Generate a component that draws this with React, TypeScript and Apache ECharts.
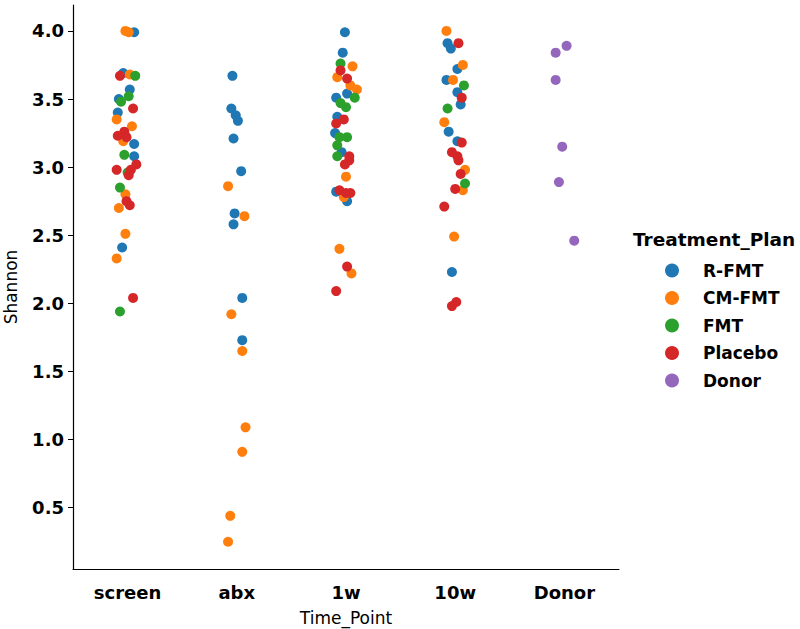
import React, { useEffect, useRef } from "react";
import * as echarts from "echarts";

// Time points (x categories)
const timePoints = ["screen", "abx", "1w", "10w", "Donor"];
const yTicks = [0.5, 1.0, 1.5, 2.0, 2.5, 3.0, 3.5, 4.0];
const groups = ["R-FMT", "CM-FMT", "FMT", "Placebo", "Donor"];
const colors = ["#1f77b4", "#ff7f0e", "#2ca02c", "#d62728", "#9467bd"];

// each point: [timeIndex, jitter (category units), Shannon]
const rFMT: number[][] = [
  [0, 0.06, 3.99], [0, -0.04, 3.69], [0, 0.02, 3.57], [0, -0.08, 3.5], [0, -0.09, 3.4],
  [0, 0.06, 3.17], [0, 0.06, 3.08], [0, -0.05, 2.41],
  [1, -0.04, 3.67], [1, -0.05, 3.43], [1, -0.01, 3.38], [1, 0.01, 3.34], [1, -0.03, 3.21],
  [1, 0.04, 2.97], [1, -0.02, 2.66], [1, -0.03, 2.58], [1, 0.05, 2.04], [1, 0.05, 1.73],
  [2, -0.01, 3.99], [2, -0.03, 3.84], [2, 0.01, 3.54], [2, -0.09, 3.51], [2, -0.08, 3.37],
  [2, -0.1, 3.25], [2, -0.04, 3.11], [2, -0.09, 2.82], [2, 0.01, 2.75],
  [3, -0.07, 3.91], [3, -0.04, 3.87], [3, 0.02, 3.72], [3, -0.08, 3.64], [3, 0.02, 3.55],
  [3, 0.05, 3.46], [3, -0.06, 3.26], [3, 0.02, 3.19], [3, -0.03, 2.23],
];
const cmFMT: number[][] = [
  [0, -0.02, 4.0], [0, 0.01, 3.99], [0, 0.02, 3.68], [0, -0.1, 3.35], [0, 0.04, 3.3],
  [0, -0.04, 3.19], [0, -0.02, 2.8], [0, -0.08, 2.7], [0, -0.02, 2.51], [0, -0.1, 2.33],
  [1, -0.08, 2.86], [1, 0.07, 2.64], [1, -0.05, 1.92], [1, 0.05, 1.65], [1, 0.08, 1.09],
  [1, 0.05, 0.91], [1, -0.06, 0.44], [1, -0.08, 0.25],
  [2, 0.06, 3.74], [2, -0.08, 3.66], [2, 0.04, 3.6], [2, 0.1, 3.57], [2, 0.0, 2.93],
  [2, -0.02, 2.78], [2, -0.06, 2.4], [2, 0.05, 2.22],
  [3, -0.08, 4.0], [3, 0.07, 3.75], [3, -0.02, 3.64], [3, -0.1, 3.33], [3, 0.09, 2.98],
  [3, 0.07, 2.83], [3, -0.01, 2.49],
];
const fmt: number[][] = [
  [0, 0.07, 3.67], [0, 0.01, 3.52], [0, -0.06, 3.48], [0, -0.03, 3.09], [0, 0.0, 2.96],
  [0, -0.07, 2.85], [0, -0.07, 1.94],
  [2, -0.05, 3.76], [2, 0.08, 3.51], [2, -0.05, 3.47], [2, 0.0, 3.44], [2, -0.06, 3.22],
  [2, 0.01, 3.22], [2, -0.08, 3.16], [2, -0.08, 3.08],
  [3, 0.08, 3.6], [3, -0.07, 3.43], [3, 0.09, 2.88],
];
const placebo: number[][] = [
  [0, -0.07, 3.67], [0, 0.05, 3.43], [0, -0.03, 3.26], [0, -0.09, 3.23], [0, -0.01, 3.22],
  [0, 0.08, 3.02], [0, -0.1, 2.98], [0, 0.03, 2.98], [0, 0.01, 2.94], [0, -0.01, 2.75],
  [0, 0.02, 2.72], [0, 0.05, 2.04],
  [2, -0.05, 3.71], [2, 0.01, 3.65], [2, -0.02, 3.35], [2, -0.09, 3.32], [2, 0.03, 3.08],
  [2, 0.03, 3.05], [2, -0.01, 3.02], [2, -0.06, 2.83], [2, 0.0, 2.81], [2, 0.04, 2.81],
  [2, 0.01, 2.27], [2, -0.09, 2.09],
  [3, 0.03, 3.91], [3, 0.06, 3.51], [3, 0.06, 3.18], [3, -0.03, 3.11], [3, 0.02, 3.08],
  [3, 0.03, 3.05], [3, 0.05, 2.95], [3, 0.0, 2.84], [3, -0.1, 2.71], [3, 0.01, 2.01],
  [3, -0.03, 1.98],
];
const donor: number[][] = [
  [4, 0.02, 3.89], [4, -0.08, 3.84], [4, -0.08, 3.64], [4, -0.02, 3.15], [4, -0.05, 2.89],
  [4, 0.09, 2.46],
];
const groupData = [rFMT, cmFMT, fmt, placebo, donor];

const FONT = "DejaVu Sans";

export default function App() {
  const ref = useRef<HTMLDivElement>(null);
  useEffect(() => {
    if (!ref.current) return;
    const chart = echarts.init(ref.current, undefined, { renderer: "svg" });
    chart.setOption({
      animation: false,
      backgroundColor: "#ffffff",
      textStyle: { fontFamily: FONT },
      title: {
        text: "Treatment_Plan",
        left: 628,
        top: 225,
        textStyle: { fontFamily: FONT, fontWeight: "bold", fontSize: 18.5, color: "#000" },
      },
      legend: {
        orient: "vertical",
        left: 660,
        top: 257,
        itemWidth: 14,
        itemHeight: 14,
        itemGap: 10.5,
        icon: "circle",
        data: groups,
        textStyle: {
          fontFamily: FONT,
          fontWeight: "bold",
          fontSize: 17,
          color: "#000",
          padding: [0, 0, 0, 19],
        },
      },
      grid: {
        left: 73,
        right: 181,
        top: 5,
        bottom: 60,
        containLabel: false,
        outerBoundsMode: "none",
      },
      xAxis: [
        {
          type: "category",
          data: timePoints,
          boundaryGap: true,
          name: "Time_Point",
          nameLocation: "middle",
          nameGap: 40,
          nameTextStyle: { fontFamily: FONT, fontSize: 17, color: "#000" },
          axisLine: { onZero: false, lineStyle: { color: "#000", width: 1.2 } },
          axisTick: { alignWithLabel: true, length: 5, lineStyle: { color: "#000" } },
          axisLabel: { fontFamily: FONT, fontWeight: "bold", fontSize: 18, color: "#000", margin: 14 },
          splitLine: { show: false },
        },
        {
          type: "value",
          min: -0.5,
          max: 4.5,
          show: false,
        },
      ],
      yAxis: {
        type: "value",
        min: 0.05,
        max: 4.19,
        name: "Shannon",
        nameLocation: "middle",
        nameGap: 54,
        nameTextStyle: { fontFamily: FONT, fontSize: 17, color: "#000" },
        axisLine: { show: true, onZero: false, lineStyle: { color: "#000", width: 1.2 } },
        axisTick: { show: true, length: 5, lineStyle: { color: "#000" }, customValues: yTicks },
        axisLabel: {
          fontFamily: FONT,
          fontWeight: "bold",
          fontSize: 18,
          color: "#000",
          margin: 9,
          customValues: yTicks,
          formatter: (v: number) => v.toFixed(1),
        },
        splitLine: { show: false },
      },
      series: groups.map((g, i) => ({
        name: g,
        type: "scatter",
        xAxisIndex: 1,
        symbolSize: 10,
        itemStyle: { color: colors[i], opacity: 1 },
        data: groupData[i].map((p) => [p[0] + p[1], p[2]]),
      })),
    });
    return () => chart.dispose();
  }, []);
  return <div ref={ref} style={{ width: 800, height: 629, position: "absolute", left: 0, top: 0 }} />;
}
